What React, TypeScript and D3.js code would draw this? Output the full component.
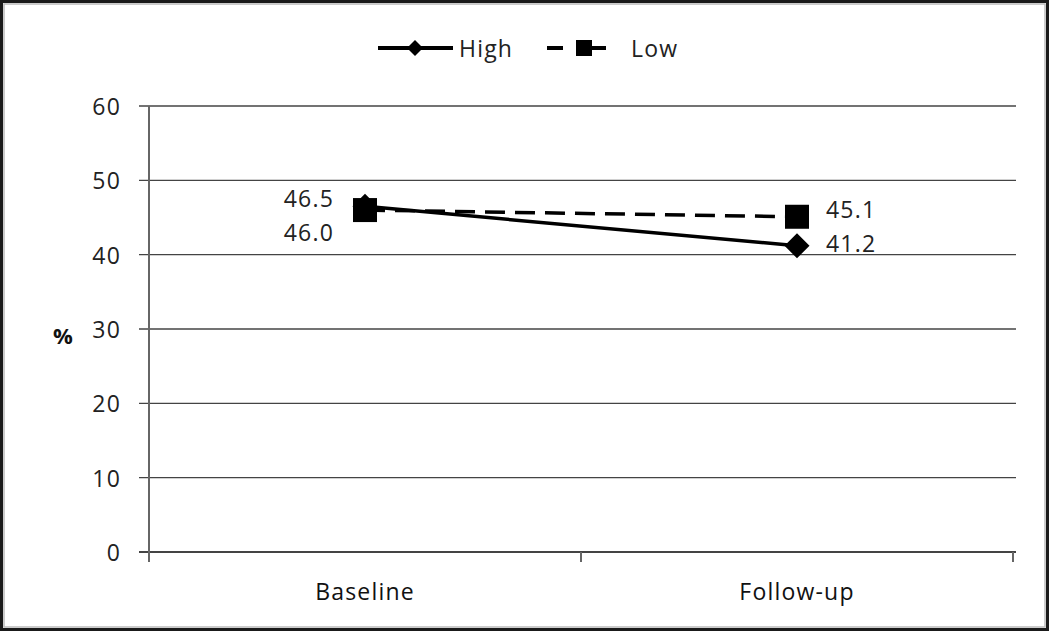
import React from "react";
import * as d3 from "d3";

const categories = ["Baseline", "Follow-up"];
const highValues = [46.5, 41.2];
const lowValues = [46.0, 45.1];
const yTicks = [0, 10, 20, 30, 40, 50, 60];
const seriesNames = ["High", "Low"];

const W = 1050;
const H = 632;
const FONT = "'Open Sans', 'Liberation Sans', sans-serif";
const FS = 23;
const LS = 1.2;

export default function App() {
  const left = 149;
  const right = 1013;
  const top = 106;
  const bottom = 552;
  const x = d3.scaleBand<string>().domain(categories).range([left, right]);
  const y = d3.scaleLinear().domain([0, 60]).range([bottom, top]);
  const cx = (c: string) => (x(c) as number) + x.bandwidth() / 2;
  const line = d3
    .line<number>()
    .x((_, i) => cx(categories[i]))
    .y((d) => y(d));
  const diamond = (px: number, py: number, r: number) =>
    `M${px},${py - r}L${px + r},${py}L${px},${py + r}L${px - r},${py}Z`;

  const bandEdges = [left, ...categories.map((c) => (x(c) as number) + x.bandwidth())];
  const txt = { fontSize: FS, letterSpacing: LS, fill: "#222" } as const;

  return (
    <svg
      width={W}
      height={H}
      style={{ position: "absolute", left: 0, top: 0, background: "#fff" }}
      fontFamily={FONT}
    >
      <rect x={1.5} y={1.5} width={W - 4} height={H - 4} fill="#fff" stroke="#1a1a1a" strokeWidth={3} />
      <rect x={4} y={4} width={W - 9} height={H - 9} fill="none" stroke="#bbb" strokeWidth={1.5} />

      {/* gridlines */}
      {yTicks.map((t) => (
        <line key={t} x1={139} x2={1016} y1={y(t)} y2={y(t)} stroke="#444" strokeWidth={t === 0 ? 2 : 1.3} />
      ))}
      {/* y axis */}
      <line x1={left} x2={left} y1={top} y2={bottom + 10} stroke="#666" strokeWidth={2} />
      {bandEdges.slice(1).map((e, i) => (
        <line key={i} x1={e} x2={e} y1={bottom} y2={bottom + 10} stroke="#666" strokeWidth={2} />
      ))}
      {yTicks.map((t) => (
        <text key={t} x={121} y={y(t)} textAnchor="end" dominantBaseline="central" {...txt}>
          {t}
        </text>
      ))}
      {categories.map((c) => (
        <text key={c} x={cx(c)} y={600} textAnchor="middle" {...txt} fill="#111">
          {c}
        </text>
      ))}
      <text x={63} y={335} textAnchor="middle" dominantBaseline="central" fontSize={22} fontWeight="bold" fill="#111">
        %
      </text>

      {/* lines */}
      <path d={line(lowValues) as string} fill="none" stroke="#000" strokeWidth={3.5} strokeDasharray="20,10" />
      <path d={line(highValues) as string} fill="none" stroke="#000" strokeWidth={3.5} />
      {highValues.map((v, i) => (
        <path key={i} d={diamond(cx(categories[i]), y(v), 12.5)} fill="#000" />
      ))}
      {lowValues.map((v, i) => (
        <rect key={i} x={cx(categories[i]) - 12} y={y(v) - 12} width={24} height={24} fill="#000" />
      ))}

      {/* data labels */}
      <text x={334} y={y(highValues[0]) - 8} textAnchor="end" dominantBaseline="central" {...txt}>
        {highValues[0].toFixed(1)}
      </text>
      <text x={334} y={y(lowValues[0]) + 22} textAnchor="end" dominantBaseline="central" {...txt}>
        {lowValues[0].toFixed(1)}
      </text>
      <text x={826} y={y(lowValues[1]) - 8} textAnchor="start" dominantBaseline="central" {...txt}>
        {lowValues[1].toFixed(1)}
      </text>
      <text x={826} y={y(highValues[1]) - 3} textAnchor="start" dominantBaseline="central" {...txt}>
        {highValues[1].toFixed(1)}
      </text>

      {/* legend */}
      <line x1={378} x2={453} y1={48} y2={48} stroke="#000" strokeWidth={4} />
      <path d={diamond(415, 48, 8)} fill="#000" />
      <text x={459} y={48} dominantBaseline="central" {...txt}>
        {seriesNames[0]}
      </text>
      <line x1={547} x2={563} y1={48} y2={48} stroke="#000" strokeWidth={4} />
      <rect x={576} y={40} width={16} height={16} fill="#000" />
      <line x1={590} x2={606} y1={48} y2={48} stroke="#000" strokeWidth={4} />
      <text x={631} y={48} dominantBaseline="central" {...txt}>
        {seriesNames[1]}
      </text>
    </svg>
  );
}
